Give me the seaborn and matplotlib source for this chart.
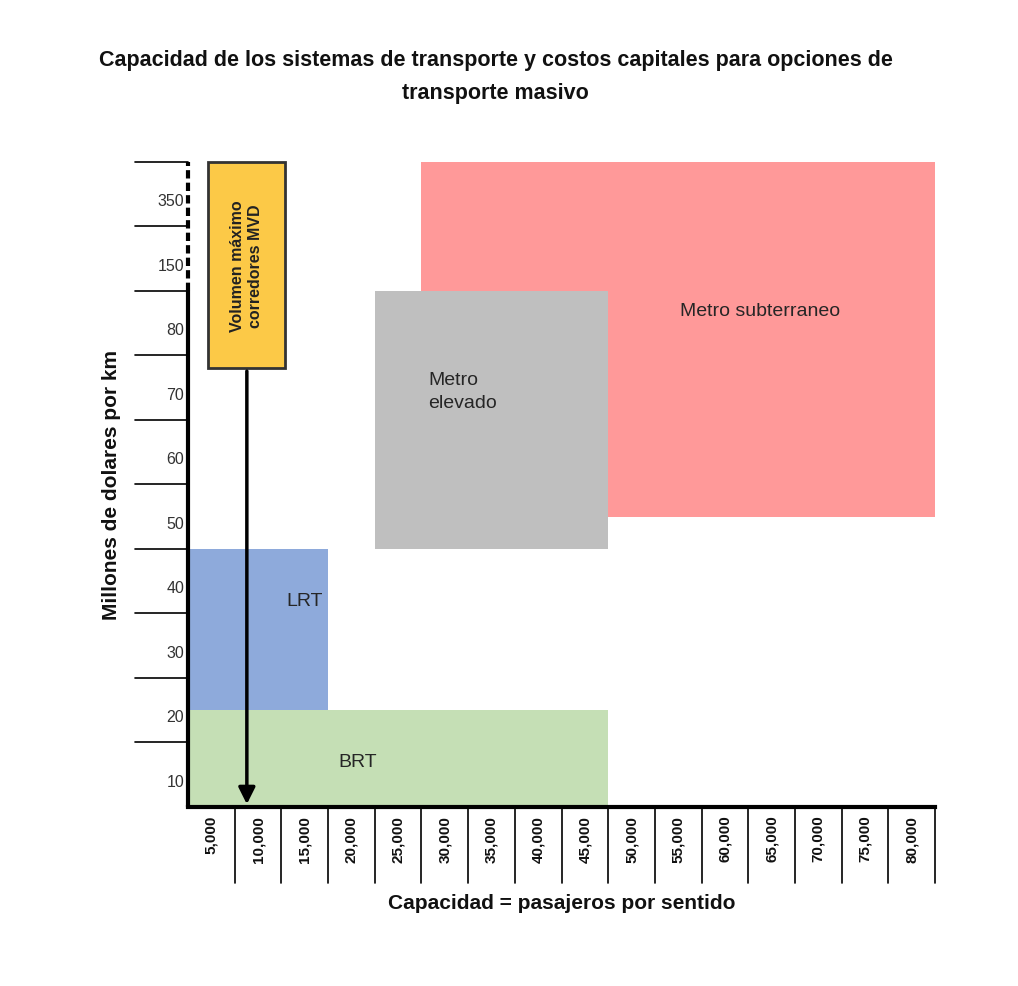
import matplotlib
matplotlib.use("Agg")
import matplotlib.pyplot as plt
import seaborn as sns

sns.set_style("white")
plt.rcParams['font.family'] = ['Liberation Sans', 'DejaVu Sans']

# Data
systems = ["BRT", "LRT", "Metro elevado", "Metro subterraneo"]
x_start = [0, 0, 20000, 25000]
x_end = [45000, 15000, 45000, 80000]
y_start = [0, 1.5, 4.0, 4.5]       # in row units of the categorical cost axis
y_end = [1.5, 4.0, 8.0, 10.0]
colors = ["#c5dfb5", "#8eaadb", "#bfbfbf", "#ff9999"]
layer = [2, 2, 2, 1]
x_labels = ["5,000", "10,000", "15,000", "20,000", "25,000", "30,000", "35,000", "40,000",
            "45,000", "50,000", "55,000", "60,000", "65,000", "70,000", "75,000", "80,000"]
y_labels = ["10", "20", "30", "40", "50", "60", "70", "80", "150", "350"]
mvd_x = 6300

fig = plt.figure(figsize=(10.18, 9.87), dpi=100)
ax = fig.add_axes([0.1847, 0.1814, 0.7338, 0.6535])
ax.set_xlim(0, 80000)
ax.set_ylim(0, 10)

for s, x0, x1, y0, y1, c, z in zip(systems, x_start, x_end, y_start, y_end, colors, layer):
    ax.bar(x0, y1 - y0, width=x1 - x0, bottom=y0, align="edge", color=c, edgecolor="none", zorder=z)

ax.text(61250, 7.7, "Metro subterraneo", fontsize=14, va="center", ha="center", zorder=6)
ax.text(25700, 6.45, "Metro\nelevado", fontsize=14, va="center", ha="left", linespacing=1.5, zorder=6)
ax.text(12500, 3.2, "LRT", fontsize=14, va="center", ha="center", zorder=6)
ax.text(18200, 0.7, "BRT", fontsize=14, va="center", ha="center", zorder=6)

# MVD box and arrow
ax.bar(2140, 10 - 6.8, width=10390 - 2140, bottom=6.8, align="edge", color="#fcc947",
       edgecolor="#333333", linewidth=2, zorder=3, clip_on=False)
ax.text(6265, 8.4, "Volumen máximo\ncorredores MVD", rotation=90, ha="center", va="center",
        fontsize=11.5, fontweight="bold", color="#222222", zorder=4)
ax.annotate("", xy=(mvd_x, 0.0), xytext=(mvd_x, 6.8),
            arrowprops=dict(arrowstyle="-|>", color="black", lw=2.5, mutation_scale=25), zorder=4)

# Axes styling
for sp in ["top", "right"]:
    ax.spines[sp].set_visible(False)
ax.spines["bottom"].set_linewidth(3)
ax.spines["bottom"].set_color("black")
ax.spines["left"].set_visible(False)
ax.plot([0, 0], [0, 8], color="black", lw=3, clip_on=False, zorder=5)
ax.plot([0, 0], [8, 10], color="black", lw=3, ls=(0, (2, 1)), clip_on=False, zorder=5)
ax.set_xticks([])
ax.set_yticks([])

# Custom y tick lines and labels
xt = ax.get_yaxis_transform()
for i, lab in enumerate(y_labels):
    ax.plot([-0.071, 0], [i + 1, i + 1], transform=xt, color="black", lw=1.2, clip_on=False)
    ax.text(-0.005, i + 0.4, lab, transform=xt, ha="right", va="center", fontsize=11.5, color="#333333")

# Custom x separators and labels
yt = ax.get_xaxis_transform()
for k, lab in enumerate(x_labels):
    xb = (k + 1) * 5000
    ax.plot([xb, xb], [0, -0.118], transform=yt, color="black", lw=1.2, clip_on=False)
    ax.text(xb - 2500, -0.012, lab, transform=yt, rotation=90, ha="center", va="top",
            fontsize=11, fontweight="bold", color="#111111")

ax.set_xlabel("Capacidad = pasajeros por sentido", fontsize=15, fontweight="bold", labelpad=62, color="#111111")
ax.set_ylabel("Millones de dolares por km", fontsize=15, fontweight="bold", labelpad=48, color="#111111")

fig.text(0.487, 0.922, "Capacidad de los sistemas de transporte y costos capitales para opciones de\ntransporte masivo",
         ha="center", va="center", fontsize=15.5, fontweight="bold", linespacing=1.7, color="#111111")

fig.savefig("out.png", dpi=100)
